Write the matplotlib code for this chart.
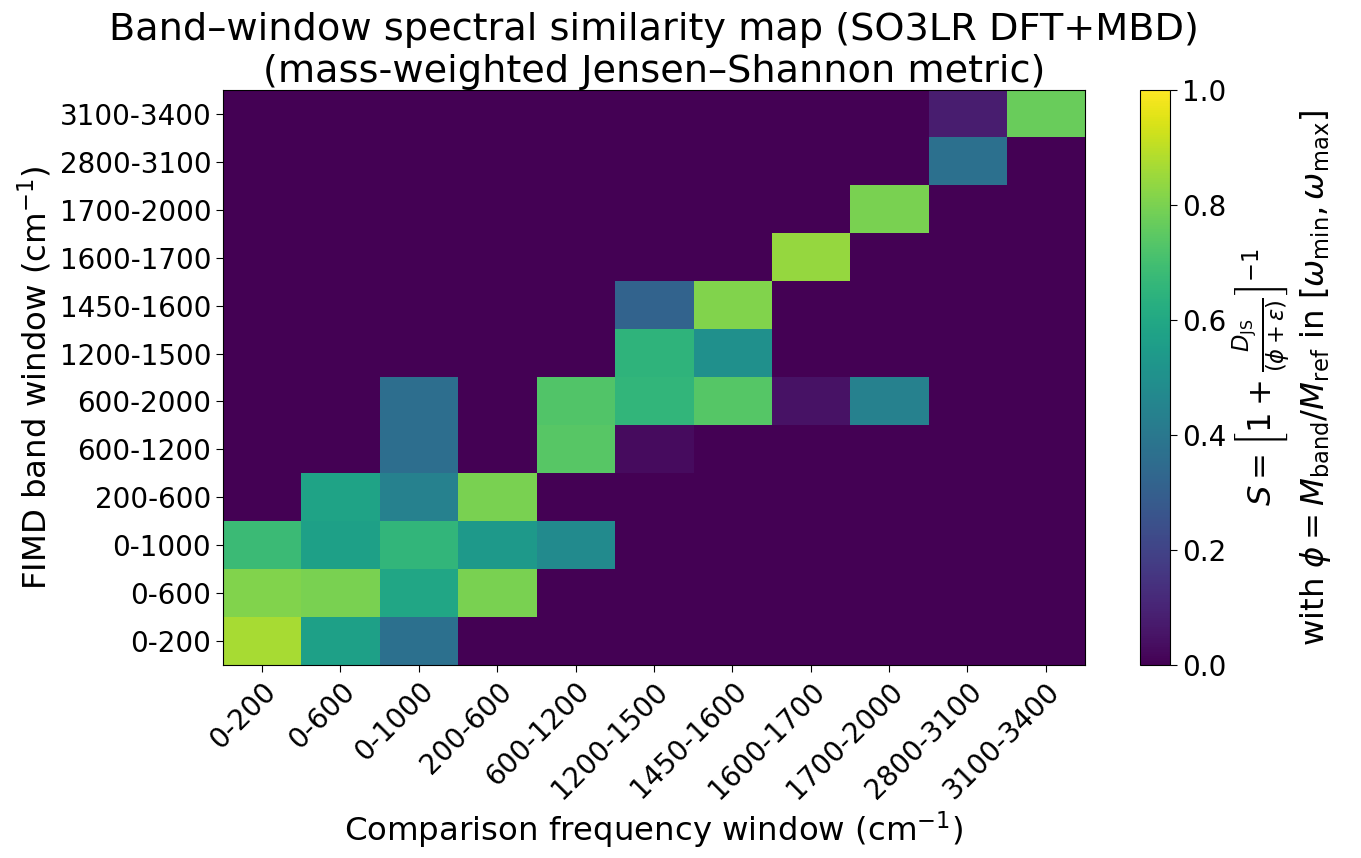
import numpy as np
import matplotlib.pyplot as plt

# FIMD band windows (rows, bottom to top) and comparison windows (columns)
band_windows = ['0-200', '0-600', '0-1000', '200-600', '600-1200', '600-2000',
                '1200-1500', '1450-1600', '1600-1700', '1700-2000',
                '2800-3100', '3100-3400']
comp_windows = ['0-200', '0-600', '0-1000', '200-600', '600-1200', '1200-1500',
                '1450-1600', '1600-1700', '1700-2000', '2800-3100', '3100-3400']

# similarity values, one list per band window
s_0_200     = [0.87, 0.57, 0.37, 0, 0, 0, 0, 0, 0, 0, 0]
s_0_600     = [0.81, 0.80, 0.59, 0.80, 0, 0, 0, 0, 0, 0, 0]
s_0_1000    = [0.68, 0.57, 0.66, 0.54, 0.48, 0, 0, 0, 0, 0, 0]
s_200_600   = [0, 0.58, 0.44, 0.80, 0, 0, 0, 0, 0, 0, 0]
s_600_1200  = [0, 0, 0.36, 0, 0.74, 0.03, 0, 0, 0, 0, 0]
s_600_2000  = [0, 0, 0.36, 0, 0.73, 0.66, 0.735, 0.05, 0.44, 0, 0]
s_1200_1500 = [0, 0, 0, 0, 0, 0.65, 0.50, 0, 0, 0, 0]
s_1450_1600 = [0, 0, 0, 0, 0, 0.32, 0.81, 0, 0, 0, 0]
s_1600_1700 = [0, 0, 0, 0, 0, 0, 0, 0.84, 0, 0, 0]
s_1700_2000 = [0, 0, 0, 0, 0, 0, 0, 0, 0.80, 0, 0]
s_2800_3100 = [0, 0, 0, 0, 0, 0, 0, 0, 0, 0.37, 0]
s_3100_3400 = [0, 0, 0, 0, 0, 0, 0, 0, 0, 0.08, 0.77]

S = np.array([s_0_200, s_0_600, s_0_1000, s_200_600, s_600_1200, s_600_2000,
              s_1200_1500, s_1450_1600, s_1600_1700, s_1700_2000,
              s_2800_3100, s_3100_3400])

fig = plt.figure(figsize=(13.61, 8.58), dpi=100)
ax = fig.add_axes([0.1638, 0.2249, 0.6334, 0.6702])
cax = fig.add_axes([0.8376, 0.2249, 0.0221, 0.6702])

im = ax.imshow(S, origin='lower', aspect='auto', cmap='viridis',
               vmin=0, vmax=1, interpolation='nearest')

ax.set_xticks(range(len(comp_windows)))
ax.set_xticklabels(comp_windows, rotation=45, ha='right', rotation_mode='anchor',
                   fontsize=20)
ax.set_yticks(range(len(band_windows)))
ax.set_yticklabels(band_windows, fontsize=20)
ax.tick_params(length=5)

ax.set_xlabel('Comparison frequency window (cm$^{-1}$)', fontsize=23.3)
ax.set_ylabel('FIMD band window (cm$^{-1}$)', fontsize=23.3)
ax.set_title('Band–window spectral similarity map (SO3LR DFT+MBD)\n'
             '(mass-weighted Jensen–Shannon metric)', fontsize=27.5)

cb = fig.colorbar(im, cax=cax)
cb.ax.tick_params(labelsize=20, length=5)
cb.set_label(r'$S=\left[1+\frac{D_{\rm JS}}{(\phi+\varepsilon)}\right]^{-1}$'
             '\n'
             r'with $\phi=M_{\rm band}/M_{\rm ref}$ in $[\omega_{\rm min},\omega_{\rm max}]$',
             fontsize=23.3)

fig.savefig('out.png', dpi=100)
